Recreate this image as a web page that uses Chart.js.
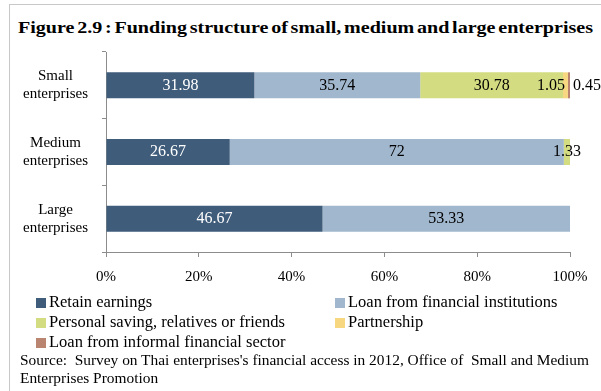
<!DOCTYPE html>
<html>
<head>
<meta charset="utf-8">
<script src="https://cdn.jsdelivr.net/npm/chart.js@4"></script>
<style>
  body { margin: 0; background: #fff; font-family: "Liberation Serif", "Times New Roman", serif; }
  #wrap { position: relative; width: 601px; height: 391px; overflow: hidden; }
  #frame { position: absolute; left: 9px; top: 4px; width: 600px; height: 400px;
           border-left: 1px solid #c8c8c8; border-top: 1px solid #c8c8c8; }
  #title { position: absolute; left: 18px; top: 17px; font-weight: bold; font-size: 17.5px;
           word-spacing: -2px; white-space: nowrap; color: #000; transform-origin: 0 0; }
  #box { position: absolute; left: 10px; top: 40px; width: 591px; height: 257px; }
  #legend { position: absolute; left: 36px; top: 292px; }
  .item { position: absolute; white-space: nowrap; height: 20px; line-height: 20px;
          font-family: "Liberation Serif", serif; font-size: 16.5px; color: #000; }
  .item span { display: inline-block; width: 10px; height: 10px; margin-right: 3px; vertical-align: -1px; }
  #source { position: absolute; left: 20px; top: 351px; font-size: 15.4px; line-height: 18px; color: #000; }
</style>
</head>
<body>
<div id="wrap">
  <div id="frame"></div>
  <div id="title">Figure 2.9 : Funding structure of small, medium and large enterprises</div>
  <div id="box"><canvas id="barras"></canvas></div>
  <div id="legend"></div>
  <div id="source">Source:&nbsp; Survey on Thai enterprises's financial access in 2012, Office of&nbsp; Small and Medium<br>Enterprises Promotion</div>
</div>
<script>
// categories (top to bottom)
const categorias = [['Small', 'enterprises'], ['Medium', 'enterprises'], ['Large', 'enterprises']];

// shares in % for each funding source
const retainEarnings = [31.98, 26.67, 46.67];
const loanFinancial = [35.74, 72, 53.33];
const personalSaving = [30.78, 1.33, 0];
const partnership = [1.05, 0, 0];
const loanInformal = [0.45, 0, 0];

const xTicks = [0, 20, 40, 60, 80, 100];

// stretch the title to the full width of the frame
const titulo = document.getElementById('title');
titulo.style.transform = 'scaleX(' + (575 / titulo.getBoundingClientRect().width) + ')';

// value labels drawn on each segment
const etiquetas = {
    id: 'etiquetas',
    afterDatasetsDraw(chart) {
        const c = chart.ctx;
        c.save();
        c.font = '16px "Liberation Serif", serif';
        c.textBaseline = 'middle';
        chart.data.datasets.forEach((ds, i) => {
            const meta = chart.getDatasetMeta(i);
            meta.data.forEach((bar, j) => {
                const v = ds.data[j];
                if (!v) return;
                c.fillStyle = ds.labelColor;
                if (ds.labelPos === 'outside') {
                    c.textAlign = 'left';
                    c.fillText(String(v), bar.x + 3, bar.y);
                } else if (ds.labelPos === 'end') {
                    c.textAlign = 'right';
                    c.fillText(String(v), bar.x - 3, bar.y);
                } else {
                    c.textAlign = 'center';
                    c.fillText(String(v), (bar.x + bar.base) / 2, bar.y);
                }
            });
        });
        c.restore();
    }
};

const ctx = document.getElementById('barras');

const grafico = new Chart(ctx, {
    type: 'bar',
    data: {
        labels: categorias,
        datasets: [
            { label: 'Retain earnings', data: retainEarnings, backgroundColor: '#3f5c7b', labelColor: '#ffffff' },
            { label: 'Loan from financial institutions', data: loanFinancial, backgroundColor: '#a1b7cd', labelColor: '#000000' },
            { label: 'Personal saving, relatives or friends', data: personalSaving, backgroundColor: '#d3dc80', labelColor: '#000000' },
            { label: 'Partnership', data: partnership, backgroundColor: '#f7d77f', labelColor: '#000000', labelPos: 'end' },
            { label: 'Loan from informal financial sector', data: loanInformal, backgroundColor: '#b98571', labelColor: '#000000', labelPos: 'outside' }
        ]
    },
    options: {
        indexAxis: 'y',
        responsive: true,
        maintainAspectRatio: false,
        animation: false,
        datasets: { bar: { categoryPercentage: 1, barPercentage: 0.39, borderWidth: 0 } },
        layout: { padding: { top: 12, right: 31, bottom: 0, left: 0 } },
        scales: {
            x: {
                stacked: true,
                min: 0,
                max: 100,
                afterBuildTicks: (s) => { s.ticks = xTicks.map(v => ({ value: v })); },
                // fixed height, side room comes from layout.padding
                afterFit: (s) => { s.height = 45; s.paddingLeft = 0; s.paddingRight = 0; },
                ticks: {
                    callback: (v) => v + '%',
                    color: '#000',
                    padding: 11,
                    maxRotation: 0,
                    font: { family: '"Liberation Serif", serif', size: 15 }
                },
                grid: { drawOnChartArea: false, tickLength: 5, color: '#8c8c8c' },
                border: { color: '#8c8c8c' }
            },
            y: {
                stacked: true,
                // fixed width, and no extra room for the two-line labels
                afterFit: (s) => { s.width = 96; s.paddingTop = 0; s.paddingBottom = 0; },
                ticks: {
                    crossAlign: 'center',
                    color: '#000',
                    padding: 14,
                    font: { family: '"Liberation Serif", serif', size: 15, lineHeight: 1.2 }
                },
                grid: { drawOnChartArea: false, tickLength: 4, color: '#8c8c8c', offset: true },
                border: { color: '#8c8c8c' }
            }
        },
        plugins: {
            legend: { display: false },
            tooltip: { enabled: false }
        }
    },
    plugins: [etiquetas]
});

// two-column legend built from the datasets
const legenda = document.getElementById('legend');
const posicoes = [[0, 0], [299, 0], [0, 20], [299, 20], [0, 40]];
grafico.data.datasets.forEach((ds, i) => {
    const el = document.createElement('div');
    el.className = 'item';
    el.style.left = posicoes[i][0] + 'px';
    el.style.top = posicoes[i][1] + 'px';
    el.innerHTML = '<span style="background:' + ds.backgroundColor + '"></span>' + ds.label;
    legenda.appendChild(el);
});
</script>
</body>
</html>
